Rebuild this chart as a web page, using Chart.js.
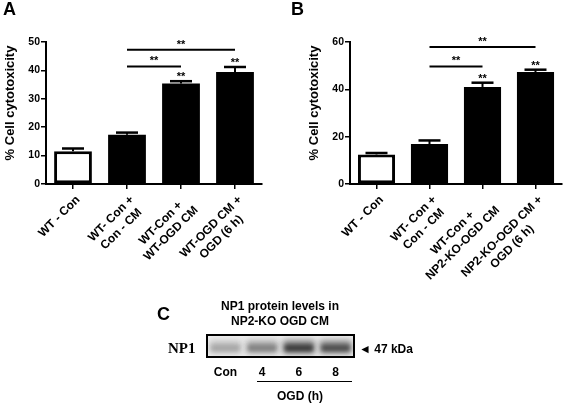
<!DOCTYPE html>
<html>
<head>
<meta charset="utf-8">
<script src="https://cdn.jsdelivr.net/npm/chart.js@4.4.0/dist/chart.umd.min.js"></script>
<style>
  body { margin: 0; width: 565px; height: 403px; background: #fff; position: relative; overflow: hidden;
         font-family: "Liberation Sans", Arial, sans-serif; font-weight: bold; color: #000; }
  .abs { position: absolute; white-space: nowrap; }
  canvas { position: absolute; }
</style>
</head>
<body>
<canvas id="chartA" width="282" height="290" style="left:0;top:0"></canvas>
<canvas id="chartB" width="283" height="290" style="left:282px;top:0"></canvas>
<canvas id="chartC" width="280" height="113" style="left:150px;top:290px"></canvas>

<div class="abs" style="left:3px;top:-1px;font-size:18px">A</div>
<div class="abs" style="left:291px;top:-1px;font-size:18px">B</div>
<div class="abs" style="left:157px;top:304px;font-size:18px">C</div>
<div class="abs" style="left:200px;top:299px;width:160px;text-align:center;font-size:12px;line-height:15px">NP1 protein levels in<br>NP2-KO OGD CM</div>
<div class="abs" style="left:168px;top:341px;font-family:'Liberation Serif',serif;font-size:15px;line-height:15px">NP1</div>
<div class="abs" style="left:359px;top:342px;font-size:12px;line-height:15px">&#9668; 47 kDa</div>
<div class="abs" style="left:257px;top:381px;width:95px;height:1px;background:#000"></div>
<div class="abs" style="left:250px;top:389px;width:100px;text-align:center;font-size:12px;line-height:15px">OGD (h)</div>

<script>
// panel A
const labelsA = ['WT - Con', ['WT- Con +', 'Con - CM'], ['WT-Con +', 'WT-OGD CM'], ['WT-OGD CM +', 'OGD (6 h)']];
const meanA = [11.5, 17.3, 35.4, 39.4];
const errA = [1.0, 0.8, 0.8, 1.8];
const bracketsA = [[1, 3, 47.3], [1, 2, 41.4]]; // from bar, to bar, height
// panel B
const labelsB = ['WT - Con', ['WT- Con +', 'Con - CM'], ['WT-Con +', 'NP2-KO-OGD CM'], ['NP2-KO-OGD CM +', 'OGD (6 h)']];
const meanB = [12.5, 16.9, 41.0, 47.3];
const errB = [0.6, 1.5, 1.8, 1.0];
const bracketsB = [[1, 3, 57.9], [1, 2, 49.7]];
const starredBars = [2, 3];
// panel C (blot)
const laneLabels = ['Con', '4', '6', '8'];
const bandDensity = [0.3, 0.5, 0.88, 0.78];

Chart.defaults.font.family = '"Liberation Sans", Arial, sans-serif';
Chart.defaults.font.weight = 'bold';
Chart.defaults.color = '#000';
Chart.defaults.animation = false;

const starFont = 'bold 11px "Liberation Sans", Arial, sans-serif';

const errorBars = {
  id: 'errorBars',
  afterDatasetsDraw(chart, args, opts) {
    const { ctx, scales: { y } } = chart;
    const meta = chart.getDatasetMeta(0);
    ctx.save();
    ctx.strokeStyle = '#000';
    meta.data.forEach((bar, i) => {
      const top = y.getPixelForValue(opts.means[i] + opts.errs[i]);
      ctx.lineWidth = 2;
      ctx.beginPath();
      ctx.moveTo(bar.x, bar.y);
      ctx.lineTo(bar.x, top);
      ctx.stroke();
      ctx.lineWidth = 2.5;
      ctx.beginPath();
      ctx.moveTo(bar.x - 11, top);
      ctx.lineTo(bar.x + 11, top);
      ctx.stroke();
    });
    ctx.restore();
  }
};

const significance = {
  id: 'significance',
  afterDatasetsDraw(chart, args, opts) {
    const { ctx, scales: { x, y } } = chart;
    ctx.save();
    ctx.strokeStyle = '#000';
    ctx.fillStyle = '#000';
    ctx.lineWidth = 2;
    ctx.font = starFont;
    ctx.textAlign = 'center';
    opts.brackets.forEach(([a, b, h]) => {
      const x1 = x.getPixelForValue(a), x2 = x.getPixelForValue(b), yy = y.getPixelForValue(h);
      ctx.beginPath();
      ctx.moveTo(x1, yy);
      ctx.lineTo(x2, yy);
      ctx.stroke();
      ctx.fillText('**', (x1 + x2) / 2, yy - 2);
    });
    starredBars.forEach(i => {
      const top = y.getPixelForValue(opts.means[i] + opts.errs[i]);
      ctx.fillText('**', x.getPixelForValue(i), top - 1);
    });
    ctx.restore();
  }
};

// rotated two-line category labels, lines centred on each other
const xLabels = {
  id: 'xLabels',
  afterDraw(chart) {
    const { ctx, scales: { x } } = chart;
    ctx.save();
    ctx.font = 'bold 12px "Liberation Sans", Arial, sans-serif';
    ctx.fillStyle = '#000';
    ctx.textAlign = 'center';
    ctx.textBaseline = 'middle';
    chart.data.labels.forEach((lab, i) => {
      const lines = Array.isArray(lab) ? lab : [lab];
      const w = Math.max(...lines.map(l => ctx.measureText(l).width));
      ctx.save();
      ctx.translate(x.getPixelForValue(i) + 5, x.top + 14);
      ctx.rotate(-Math.PI / 4);
      lines.forEach((l, j) => ctx.fillText(l, -w / 2, j * 14.5));
      ctx.restore();
    });
    ctx.restore();
  }
};

const yTitle = {
  id: 'yTitle',
  afterDraw(chart, args, opts) {
    const { ctx, chartArea } = chart;
    ctx.save();
    ctx.translate(chartArea.left - 36, chartArea.top + 61);
    ctx.rotate(-Math.PI / 2);
    ctx.font = 'bold 13px "Liberation Sans", Arial, sans-serif';
    ctx.textAlign = 'center';
    ctx.textBaseline = 'middle';
    ctx.fillStyle = '#000';
    ctx.fillText(opts.text, 0, 0);
    ctx.restore();
  }
};

function barPanel(id, labels, means, errs, ymax, step, brackets, axisLeft, axisRight) {
  const canvas = document.getElementById(id);
  return new Chart(canvas, {
    type: 'bar',
    data: {
      labels: labels,
      datasets: [{
        data: means,
        backgroundColor: means.map((v, i) => i === 0 ? '#fff' : '#000'),
        borderColor: '#000',
        borderWidth: means.map((v, i) => i === 0 ? 3 : 0),
        borderSkipped: false,
        categoryPercentage: 1,
        barPercentage: 0.7
      }]
    },
    options: {
      responsive: false,
      layout: { padding: { left: 0, right: canvas.width - axisRight, top: 42, bottom: 0 } },
      plugins: {
        legend: { display: false },
        tooltip: { enabled: false },
        errorBars: { means, errs },
        significance: { brackets, means, errs },
        yTitle: { text: '% Cell cytotoxicity' }
      },
      scales: {
        x: {
          offset: true,
          grid: { offset: false, drawOnChartArea: false, tickLength: 5, color: '#000', lineWidth: 1.5 },
          border: { color: '#000', width: 2 },
          ticks: { display: false },
          afterFit: s => { s.height = canvas.height - 184; }
        },
        y: {
          min: 0, max: ymax,
          ticks: { stepSize: step, padding: 1, font: { size: 10.5, weight: 'bold' } },
          grid: { drawOnChartArea: false, tickLength: 5, color: '#000', lineWidth: 1.5 },
          border: { color: '#000', width: 2 },
          afterFit: s => { s.width = axisLeft; }
        }
      }
    },
    plugins: [errorBars, significance, xLabels, yTitle]
  });
}

barPanel('chartA', labelsA, meanA, errA, 50, 10, bracketsA, 46, 262);
barPanel('chartB', labelsB, meanB, errB, 60, 20, bracketsB, 68, 280);

const blot = {
  id: 'blot',
  beforeDatasetsDraw(chart) {
    const { ctx, chartArea: a } = chart;
    const meta = chart.getDatasetMeta(0);
    const mid = a.top + 12;
    ctx.save();
    ctx.fillStyle = '#f0f0f0';
    ctx.fillRect(a.left, a.top, a.right - a.left, a.bottom - a.top);
    ctx.beginPath();
    ctx.rect(a.left, a.top, a.right - a.left, a.bottom - a.top);
    ctx.clip();
    meta.data.forEach((bar, i) => {
      const d = bandDensity[i];
      const outer = Math.round(232 - d * 120);
      const inner = Math.round(222 - d * 190);
      ctx.filter = 'blur(3px)';
      ctx.fillStyle = `rgb(${outer},${outer},${outer})`;
      ctx.fillRect(bar.x - 16, mid - 7, 32, 14);
      ctx.filter = 'blur(2px)';
      ctx.fillStyle = `rgb(${inner},${inner},${inner})`;
      ctx.fillRect(bar.x - 14, mid - 2, 28, 6);
    });
    ctx.restore();
    ctx.save();
    ctx.strokeStyle = '#000';
    ctx.lineWidth = 2;
    ctx.strokeRect(a.left, a.top, a.right - a.left, a.bottom - a.top);
    ctx.restore();
  }
};

const canvasC = document.getElementById('chartC');
new Chart(canvasC, {
  type: 'bar',
  data: {
    labels: laneLabels,
    datasets: [{ data: bandDensity, backgroundColor: 'rgba(0,0,0,0)', borderWidth: 0 }]
  },
  options: {
    responsive: false,
    layout: { padding: { left: 57, right: 76, top: 45, bottom: 0 } },
    plugins: { legend: { display: false }, tooltip: { enabled: false } },
    scales: {
      x: {
        offset: true,
        grid: { display: false },
        border: { display: false },
        ticks: { padding: 0, font: { size: 12, weight: 'bold' } },
        afterFit: s => { s.height = 46; }
      },
      y: { display: false, min: 0, max: 1 }
    }
  },
  plugins: [blot]
});
</script>
</body>
</html>
